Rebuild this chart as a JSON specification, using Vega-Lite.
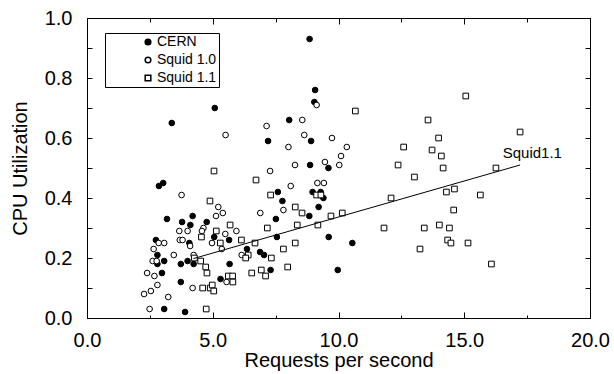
{
  "$schema": "https://vega.github.io/schema/vega-lite/v6.json",
  "width": 503,
  "height": 300,
  "autosize": {"type": "none"},
  "padding": {"left": 87, "top": 18, "right": 24, "bottom": 56},
  "config": {
    "font": "Liberation Sans",
    "view": {"stroke": "black", "strokeWidth": 1},
    "axis": {
      "grid": false,
      "domainColor": "black",
      "tickColor": "black",
      "labelColor": "black",
      "titleColor": "black",
      "labelFont": "Liberation Sans",
      "titleFont": "Liberation Sans",
      "labelFontSize": 20,
      "titleFontSize": 20,
      "titleFontWeight": "normal",
      "tickWidth": 1,
      "domainWidth": 1
    }
  },
  "datasets": {
    "pts": [
      {"rps": 8.85, "cpu": 0.93, "series": "CERN"},
      {"rps": 9.07, "cpu": 0.76, "series": "CERN"},
      {"rps": 9.04, "cpu": 0.72, "series": "CERN"},
      {"rps": 5.08, "cpu": 0.70, "series": "CERN"},
      {"rps": 3.37, "cpu": 0.65, "series": "CERN"},
      {"rps": 8.04, "cpu": 0.66, "series": "CERN"},
      {"rps": 8.91, "cpu": 0.59, "series": "CERN"},
      {"rps": 7.20, "cpu": 0.59, "series": "CERN"},
      {"rps": 8.87, "cpu": 0.51, "series": "CERN"},
      {"rps": 9.60, "cpu": 0.50, "series": "CERN"},
      {"rps": 2.86, "cpu": 0.44, "series": "CERN"},
      {"rps": 3.03, "cpu": 0.45, "series": "CERN"},
      {"rps": 8.97, "cpu": 0.42, "series": "CERN"},
      {"rps": 9.29, "cpu": 0.42, "series": "CERN"},
      {"rps": 9.40, "cpu": 0.40, "series": "CERN"},
      {"rps": 7.59, "cpu": 0.42, "series": "CERN"},
      {"rps": 7.77, "cpu": 0.39, "series": "CERN"},
      {"rps": 9.21, "cpu": 0.37, "series": "CERN"},
      {"rps": 8.84, "cpu": 0.34, "series": "CERN"},
      {"rps": 4.20, "cpu": 0.34, "series": "CERN"},
      {"rps": 3.18, "cpu": 0.33, "series": "CERN"},
      {"rps": 3.78, "cpu": 0.32, "series": "CERN"},
      {"rps": 4.11, "cpu": 0.31, "series": "CERN"},
      {"rps": 4.76, "cpu": 0.32, "series": "CERN"},
      {"rps": 7.51, "cpu": 0.33, "series": "CERN"},
      {"rps": 5.06, "cpu": 0.27, "series": "CERN"},
      {"rps": 5.65, "cpu": 0.26, "series": "CERN"},
      {"rps": 7.55, "cpu": 0.27, "series": "CERN"},
      {"rps": 9.61, "cpu": 0.27, "series": "CERN"},
      {"rps": 2.74, "cpu": 0.26, "series": "CERN"},
      {"rps": 4.07, "cpu": 0.25, "series": "CERN"},
      {"rps": 2.80, "cpu": 0.21, "series": "CERN"},
      {"rps": 6.36, "cpu": 0.23, "series": "CERN"},
      {"rps": 6.88, "cpu": 0.22, "series": "CERN"},
      {"rps": 7.04, "cpu": 0.21, "series": "CERN"},
      {"rps": 4.00, "cpu": 0.19, "series": "CERN"},
      {"rps": 4.24, "cpu": 0.18, "series": "CERN"},
      {"rps": 3.73, "cpu": 0.18, "series": "CERN"},
      {"rps": 3.07, "cpu": 0.19, "series": "CERN"},
      {"rps": 2.80, "cpu": 0.18, "series": "CERN"},
      {"rps": 5.67, "cpu": 0.18, "series": "CERN"},
      {"rps": 7.30, "cpu": 0.16, "series": "CERN"},
      {"rps": 2.98, "cpu": 0.15, "series": "CERN"},
      {"rps": 5.31, "cpu": 0.13, "series": "CERN"},
      {"rps": 3.73, "cpu": 0.12, "series": "CERN"},
      {"rps": 3.07, "cpu": 0.03, "series": "CERN"},
      {"rps": 3.90, "cpu": 0.02, "series": "CERN"},
      {"rps": 10.55, "cpu": 0.25, "series": "CERN"},
      {"rps": 9.97, "cpu": 0.16, "series": "CERN"},
      {"rps": 9.13, "cpu": 0.71, "series": "Squid 1.0"},
      {"rps": 8.56, "cpu": 0.66, "series": "Squid 1.0"},
      {"rps": 7.14, "cpu": 0.64, "series": "Squid 1.0"},
      {"rps": 5.51, "cpu": 0.61, "series": "Squid 1.0"},
      {"rps": 8.64, "cpu": 0.61, "series": "Squid 1.0"},
      {"rps": 9.74, "cpu": 0.60, "series": "Squid 1.0"},
      {"rps": 8.01, "cpu": 0.57, "series": "Squid 1.0"},
      {"rps": 8.27, "cpu": 0.51, "series": "Squid 1.0"},
      {"rps": 9.46, "cpu": 0.52, "series": "Squid 1.0"},
      {"rps": 10.03, "cpu": 0.51, "series": "Squid 1.0"},
      {"rps": 7.28, "cpu": 0.49, "series": "Squid 1.0"},
      {"rps": 10.33, "cpu": 0.57, "series": "Squid 1.0"},
      {"rps": 10.10, "cpu": 0.54, "series": "Squid 1.0"},
      {"rps": 8.10, "cpu": 0.44, "series": "Squid 1.0"},
      {"rps": 9.16, "cpu": 0.45, "series": "Squid 1.0"},
      {"rps": 9.42, "cpu": 0.45, "series": "Squid 1.0"},
      {"rps": 3.76, "cpu": 0.41, "series": "Squid 1.0"},
      {"rps": 7.81, "cpu": 0.36, "series": "Squid 1.0"},
      {"rps": 5.22, "cpu": 0.37, "series": "Squid 1.0"},
      {"rps": 5.40, "cpu": 0.35, "series": "Squid 1.0"},
      {"rps": 5.13, "cpu": 0.34, "series": "Squid 1.0"},
      {"rps": 6.89, "cpu": 0.35, "series": "Squid 1.0"},
      {"rps": 3.67, "cpu": 0.29, "series": "Squid 1.0"},
      {"rps": 4.00, "cpu": 0.29, "series": "Squid 1.0"},
      {"rps": 4.63, "cpu": 0.30, "series": "Squid 1.0"},
      {"rps": 4.57, "cpu": 0.29, "series": "Squid 1.0"},
      {"rps": 5.94, "cpu": 0.29, "series": "Squid 1.0"},
      {"rps": 5.50, "cpu": 0.28, "series": "Squid 1.0"},
      {"rps": 3.69, "cpu": 0.26, "series": "Squid 1.0"},
      {"rps": 3.80, "cpu": 0.26, "series": "Squid 1.0"},
      {"rps": 4.10, "cpu": 0.24, "series": "Squid 1.0"},
      {"rps": 2.85, "cpu": 0.25, "series": "Squid 1.0"},
      {"rps": 3.07, "cpu": 0.25, "series": "Squid 1.0"},
      {"rps": 4.97, "cpu": 0.25, "series": "Squid 1.0"},
      {"rps": 5.36, "cpu": 0.23, "series": "Squid 1.0"},
      {"rps": 2.65, "cpu": 0.23, "series": "Squid 1.0"},
      {"rps": 6.15, "cpu": 0.21, "series": "Squid 1.0"},
      {"rps": 3.45, "cpu": 0.21, "series": "Squid 1.0"},
      {"rps": 4.24, "cpu": 0.21, "series": "Squid 1.0"},
      {"rps": 2.61, "cpu": 0.19, "series": "Squid 1.0"},
      {"rps": 2.77, "cpu": 0.19, "series": "Squid 1.0"},
      {"rps": 2.39, "cpu": 0.15, "series": "Squid 1.0"},
      {"rps": 2.68, "cpu": 0.14, "series": "Squid 1.0"},
      {"rps": 5.55, "cpu": 0.12, "series": "Squid 1.0"},
      {"rps": 2.80, "cpu": 0.11, "series": "Squid 1.0"},
      {"rps": 2.27, "cpu": 0.08, "series": "Squid 1.0"},
      {"rps": 2.54, "cpu": 0.09, "series": "Squid 1.0"},
      {"rps": 3.23, "cpu": 0.07, "series": "Squid 1.0"},
      {"rps": 4.20, "cpu": 0.10, "series": "Squid 1.0"},
      {"rps": 2.49, "cpu": 0.03, "series": "Squid 1.0"},
      {"rps": 15.06, "cpu": 0.74, "series": "Squid 1.1"},
      {"rps": 10.67, "cpu": 0.69, "series": "Squid 1.1"},
      {"rps": 13.56, "cpu": 0.66, "series": "Squid 1.1"},
      {"rps": 13.98, "cpu": 0.60, "series": "Squid 1.1"},
      {"rps": 12.59, "cpu": 0.57, "series": "Squid 1.1"},
      {"rps": 13.72, "cpu": 0.56, "series": "Squid 1.1"},
      {"rps": 14.09, "cpu": 0.54, "series": "Squid 1.1"},
      {"rps": 17.22, "cpu": 0.62, "series": "Squid 1.1"},
      {"rps": 12.37, "cpu": 0.51, "series": "Squid 1.1"},
      {"rps": 14.16, "cpu": 0.50, "series": "Squid 1.1"},
      {"rps": 16.26, "cpu": 0.50, "series": "Squid 1.1"},
      {"rps": 13.02, "cpu": 0.47, "series": "Squid 1.1"},
      {"rps": 14.29, "cpu": 0.42, "series": "Squid 1.1"},
      {"rps": 14.61, "cpu": 0.43, "series": "Squid 1.1"},
      {"rps": 15.64, "cpu": 0.41, "series": "Squid 1.1"},
      {"rps": 12.09, "cpu": 0.40, "series": "Squid 1.1"},
      {"rps": 14.58, "cpu": 0.36, "series": "Squid 1.1"},
      {"rps": 10.15, "cpu": 0.35, "series": "Squid 1.1"},
      {"rps": 9.70, "cpu": 0.34, "series": "Squid 1.1"},
      {"rps": 11.81, "cpu": 0.30, "series": "Squid 1.1"},
      {"rps": 13.41, "cpu": 0.30, "series": "Squid 1.1"},
      {"rps": 14.01, "cpu": 0.31, "series": "Squid 1.1"},
      {"rps": 14.41, "cpu": 0.30, "series": "Squid 1.1"},
      {"rps": 14.34, "cpu": 0.26, "series": "Squid 1.1"},
      {"rps": 14.47, "cpu": 0.25, "series": "Squid 1.1"},
      {"rps": 15.15, "cpu": 0.25, "series": "Squid 1.1"},
      {"rps": 13.24, "cpu": 0.23, "series": "Squid 1.1"},
      {"rps": 16.08, "cpu": 0.18, "series": "Squid 1.1"},
      {"rps": 5.05, "cpu": 0.49, "series": "Squid 1.1"},
      {"rps": 6.72, "cpu": 0.46, "series": "Squid 1.1"},
      {"rps": 9.13, "cpu": 0.41, "series": "Squid 1.1"},
      {"rps": 9.30, "cpu": 0.41, "series": "Squid 1.1"},
      {"rps": 7.30, "cpu": 0.41, "series": "Squid 1.1"},
      {"rps": 4.89, "cpu": 0.39, "series": "Squid 1.1"},
      {"rps": 8.28, "cpu": 0.37, "series": "Squid 1.1"},
      {"rps": 8.55, "cpu": 0.35, "series": "Squid 1.1"},
      {"rps": 9.18, "cpu": 0.31, "series": "Squid 1.1"},
      {"rps": 8.36, "cpu": 0.31, "series": "Squid 1.1"},
      {"rps": 7.17, "cpu": 0.30, "series": "Squid 1.1"},
      {"rps": 5.14, "cpu": 0.29, "series": "Squid 1.1"},
      {"rps": 5.69, "cpu": 0.31, "series": "Squid 1.1"},
      {"rps": 4.55, "cpu": 0.27, "series": "Squid 1.1"},
      {"rps": 6.14, "cpu": 0.26, "series": "Squid 1.1"},
      {"rps": 6.68, "cpu": 0.25, "series": "Squid 1.1"},
      {"rps": 8.28, "cpu": 0.25, "series": "Squid 1.1"},
      {"rps": 5.30, "cpu": 0.25, "series": "Squid 1.1"},
      {"rps": 6.41, "cpu": 0.21, "series": "Squid 1.1"},
      {"rps": 6.31, "cpu": 0.20, "series": "Squid 1.1"},
      {"rps": 7.33, "cpu": 0.20, "series": "Squid 1.1"},
      {"rps": 7.81, "cpu": 0.23, "series": "Squid 1.1"},
      {"rps": 4.27, "cpu": 0.20, "series": "Squid 1.1"},
      {"rps": 4.52, "cpu": 0.19, "series": "Squid 1.1"},
      {"rps": 4.72, "cpu": 0.17, "series": "Squid 1.1"},
      {"rps": 4.77, "cpu": 0.15, "series": "Squid 1.1"},
      {"rps": 6.55, "cpu": 0.15, "series": "Squid 1.1"},
      {"rps": 6.93, "cpu": 0.16, "series": "Squid 1.1"},
      {"rps": 7.10, "cpu": 0.14, "series": "Squid 1.1"},
      {"rps": 7.98, "cpu": 0.17, "series": "Squid 1.1"},
      {"rps": 5.62, "cpu": 0.14, "series": "Squid 1.1"},
      {"rps": 5.79, "cpu": 0.14, "series": "Squid 1.1"},
      {"rps": 5.80, "cpu": 0.12, "series": "Squid 1.1"},
      {"rps": 4.60, "cpu": 0.10, "series": "Squid 1.1"},
      {"rps": 4.90, "cpu": 0.10, "series": "Squid 1.1"},
      {"rps": 4.98, "cpu": 0.11, "series": "Squid 1.1"},
      {"rps": 5.04, "cpu": 0.09, "series": "Squid 1.1"},
      {"rps": 4.74, "cpu": 0.03, "series": "Squid 1.1"}
    ],
    "fit": [
      {"rps": 4.23, "cpu": 0.198},
      {"rps": 17.22, "cpu": 0.51}
    ],
    "lbl": [
      {"rps": 16.53, "cpu": 0.55, "text": "Squid1.1"}
    ]
  },
  "layer": [
    {
      "data": {"name": "pts"},
      "mark": {"type": "point", "filled": true, "stroke": "black", "strokeWidth": 1, "opacity": 1, "size": 32},
      "encoding": {
        "x": {
          "field": "rps", "type": "quantitative",
          "scale": {"domain": [0, 20], "nice": false, "zero": false},
          "axis": {
            "orient": "bottom",
            "title": "Requests per second",
            "values": [0, 2.5, 5, 7.5, 10, 12.5, 15, 17.5, 20],
            "labelExpr": "datum.value % 5 === 0 ? format(datum.value, '.1f') : ''",
            "tickSize": {"condition": {"test": "datum.value % 5 === 0", "value": -6}, "value": -3},
            "labelPadding": 18,
            "titlePadding": -3,
            "labelFlush": false,
            "labelOverlap": false
          }
        },
        "y": {
          "field": "cpu", "type": "quantitative",
          "scale": {"domain": [0, 1], "nice": false, "zero": false},
          "axis": {
            "orient": "left",
            "title": "CPU Utilization",
            "values": [0, 0.1, 0.2, 0.3, 0.4, 0.5, 0.6, 0.7, 0.8, 0.9, 1.0],
            "labelExpr": "round(datum.value * 10) % 2 === 0 ? format(datum.value, '.1f') : ''",
            "tickSize": -5,
            "labelPadding": 20,
            "titlePadding": 14,
            "labelFlush": false,
            "labelOverlap": false
          }
        },
        "shape": {
          "field": "series", "type": "nominal",
          "scale": {"domain": ["CERN", "Squid 1.0", "Squid 1.1"], "range": ["circle", "circle", "square"]},
          "legend": {
            "title": null, "orient": "none", "legendX": 18, "legendY": 15,
            "strokeColor": "black", "fillColor": "white", "padding": 2,
            "symbolOffset": 34, "rowPadding": 4, "labelFontSize": 14,
            "labelFont": "Liberation Sans", "labelColor": "black",
            "symbolSize": 32, "labelOffset": 2,
            "encode": {"symbols": {"update": {"stroke": {"value": "black"}, "strokeWidth": {"value": 1}}}}
          }
        },
        "fill": {
          "field": "series", "type": "nominal",
          "scale": {"domain": ["CERN", "Squid 1.0", "Squid 1.1"], "range": ["black", "white", "white"]},
          "legend": {
            "title": null, "orient": "none", "legendX": 18, "legendY": 15,
            "strokeColor": "black", "fillColor": "white", "padding": 2,
            "symbolOffset": 34, "rowPadding": 4, "labelFontSize": 14,
            "labelFont": "Liberation Sans", "labelColor": "black",
            "symbolSize": 32, "labelOffset": 2,
            "encode": {"symbols": {"update": {"stroke": {"value": "black"}, "strokeWidth": {"value": 1}}}}
          }
        }
      }
    },
    {
      "data": {"name": "fit"},
      "mark": {"type": "line", "color": "black", "strokeWidth": 1},
      "encoding": {
        "x": {
          "field": "rps", "type": "quantitative",
          "axis": {
            "orient": "top", "title": null, "labels": false,
            "values": [0, 2.5, 5, 7.5, 10, 12.5, 15, 17.5, 20],
            "tickSize": {"condition": {"test": "datum.value % 5 === 0", "value": -6}, "value": -4}
          }
        },
        "y": {
          "field": "cpu", "type": "quantitative",
          "axis": {
            "orient": "right", "title": null, "labels": false,
            "values": [0, 0.1, 0.2, 0.3, 0.4, 0.5, 0.6, 0.7, 0.8, 0.9, 1.0],
            "tickSize": -5
          }
        }
      }
    },
    {
      "data": {"name": "lbl"},
      "mark": {"type": "text", "align": "left", "baseline": "middle", "fontSize": 15, "font": "Liberation Sans", "color": "black"},
      "encoding": {
        "x": {"field": "rps", "type": "quantitative", "axis": null},
        "y": {"field": "cpu", "type": "quantitative", "axis": null},
        "text": {"field": "text"}
      }
    }
  ],
  "resolve": {"axis": {"x": "independent", "y": "independent"}}
}
